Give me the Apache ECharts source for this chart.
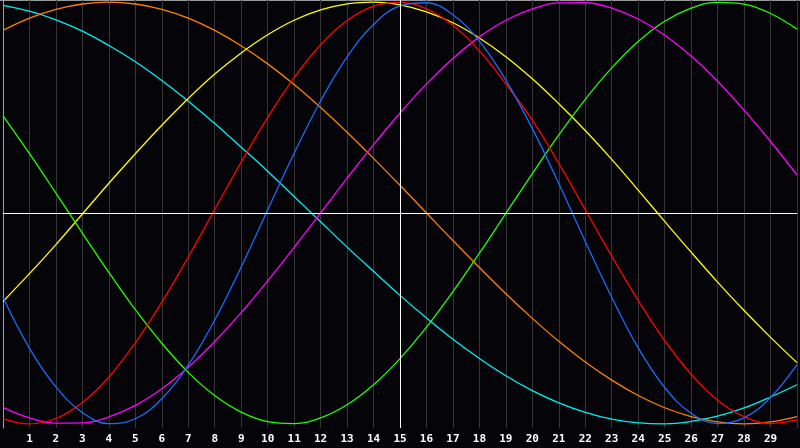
<!DOCTYPE html>
<html>
<head>
<meta charset="utf-8">
<script src="https://cdn.jsdelivr.net/npm/echarts@6/dist/echarts.min.js"></script>
<style>
  html, body { margin: 0; padding: 0; background: #050408; }
  #main { width: 800px; height: 448px; }
</style>
</head>
<body>
<div id="main"></div>
<script>
// x positions of the sampled points (0..30)
const xs = [0,1,2,3,4,5,6,7,8,9,10,11,12,13,14,15,16,17,18,19,20,21,22,23,24,25,26,27,28,29,30]
const tickLabels = ['1','2','3','4','5','6','7','8','9','10','11','12','13','14','15','16','17','18','19','20','21','22','23','24','25','26','27','28','29']

// values at every x
const cyan = [0.985,0.957,0.916,0.862,0.794,0.717,0.628,0.530,0.424,0.312,0.198,0.078,-0.042,-0.162,-0.277,-0.391,-0.498,-0.599,-0.690,-0.772,-0.843,-0.901,-0.946,-0.978,-0.996,-1.000,-0.989,-0.964,-0.925,-0.873,-0.815]
const orange = [0.866,0.924,0.966,0.991,1.000,0.991,0.966,0.924,0.866,0.793,0.707,0.609,0.500,0.383,0.259,0.131,0.000,-0.131,-0.259,-0.383,-0.500,-0.609,-0.707,-0.793,-0.866,-0.924,-0.966,-0.991,-1.000,-0.991,-0.966]
const yellow = [-0.420,-0.288,-0.150,-0.005,0.141,0.281,0.416,0.543,0.659,0.759,0.845,0.914,0.963,0.992,1.000,0.987,0.954,0.902,0.830,0.741,0.636,0.518,0.391,0.254,0.108,-0.040,-0.186,-0.328,-0.463,-0.590,-0.710]
const green = [0.460,0.281,0.094,-0.096,-0.282,-0.459,-0.618,-0.756,-0.866,-0.945,-0.990,-0.999,-0.972,-0.910,-0.815,-0.691,-0.542,-0.373,-0.191,-0.002,0.187,0.370,0.539,0.688,0.813,0.909,0.971,0.999,0.990,0.946,0.872]
const red = [-0.975,-1.000,-0.975,-0.899,-0.778,-0.616,-0.423,-0.209,0.017,0.241,0.453,0.642,0.798,0.913,0.981,0.999,0.968,0.890,0.769,0.612,0.440,0.235,0.015,-0.205,-0.415,-0.605,-0.765,-0.888,-0.966,-0.999,-0.982]
const blue = [-0.400,-0.642,-0.825,-0.947,-0.999,-0.976,-0.881,-0.722,-0.508,-0.256,0.014,0.283,0.531,0.740,0.894,0.982,0.997,0.940,0.815,0.630,0.400,0.140,-0.135,-0.400,-0.640,-0.828,-0.950,-0.999,-0.972,-0.875,-0.720]
const magenta = [-0.922,-0.972,-0.997,-0.996,-0.967,-0.913,-0.834,-0.732,-0.610,-0.473,-0.322,-0.163,0.000,0.165,0.324,0.474,0.612,0.733,0.835,0.914,0.968,0.996,0.997,0.972,0.920,0.843,0.744,0.625,0.488,0.339,0.180]

const seriesList = [
  { name: 'cyan', data: cyan, color: '#00f0f0' },
  { name: 'orange', data: orange, color: '#ff8000' },
  { name: 'yellow', data: yellow, color: '#ffff00' },
  { name: 'green', data: green, color: '#22ff00' },
  { name: 'magenta', data: magenta, color: '#ff00ff' },
  { name: 'red', data: red, color: '#ff0000' },
  { name: 'blue', data: blue, color: '#1a6cff' }
]

const myChart = echarts.init(document.getElementById('main'))

const series = seriesList.map(s => ({
  name: s.name,
  type: 'line',
  data: xs.map((x, i) => [x, s.data[i]]),
  smooth: 0.4,
  showSymbol: false,
  symbol: 'none',
  silent: true,
  lineStyle: { color: s.color, width: 1.3 },
  z: 3
}))

// white cross hair lines at x = 15 and y = 0
series.push({
  type: 'line',
  data: [],
  silent: true,
  z: 2,
  markLine: {
    silent: true,
    symbol: 'none',
    animation: false,
    label: { show: false },
    lineStyle: { color: '#ffffff', width: 1, type: 'solid' },
    data: [{ xAxis: 15 }, { yAxis: 0 }]
  }
})

myChart.setOption({
  backgroundColor: '#050408',
  animation: false,
  grid: { left: 0, right: 0, top: 0, bottom: 20 },
  graphic: [{
    type: 'line',
    shape: { x1: 0, y1: 0.5, x2: 800, y2: 0.5 },
    style: { stroke: '#9a9a9a', lineWidth: 1 },
    silent: true
  }],
  xAxis: {
    type: 'value',
    min: 0,
    max: 30,
    interval: 1,
    axisLine: { show: true, lineStyle: { color: '#a0a0a0', width: 1 } },
    axisTick: { show: false },
    splitLine: { show: true, lineStyle: { color: '#363636', width: 1 } },
    axisLabel: {
      color: '#ffffff',
      fontFamily: 'DejaVu Sans Mono',
      fontWeight: 'bold',
      fontSize: 11,
      margin: 6,
      formatter: v => (v >= 1 && v <= 29) ? tickLabels[v - 1] : ''
    }
  },
  yAxis: {
    type: 'value',
    min: -1.02,
    max: 1.01,
    axisLine: { show: true, lineStyle: { color: '#a0a0a0', width: 1 } },
    axisTick: { show: false },
    axisLabel: { show: false },
    splitLine: { show: false }
  },
  series: series
})

window.onresize = function () {
  myChart.resize()
}
</script>
</body>
</html>
